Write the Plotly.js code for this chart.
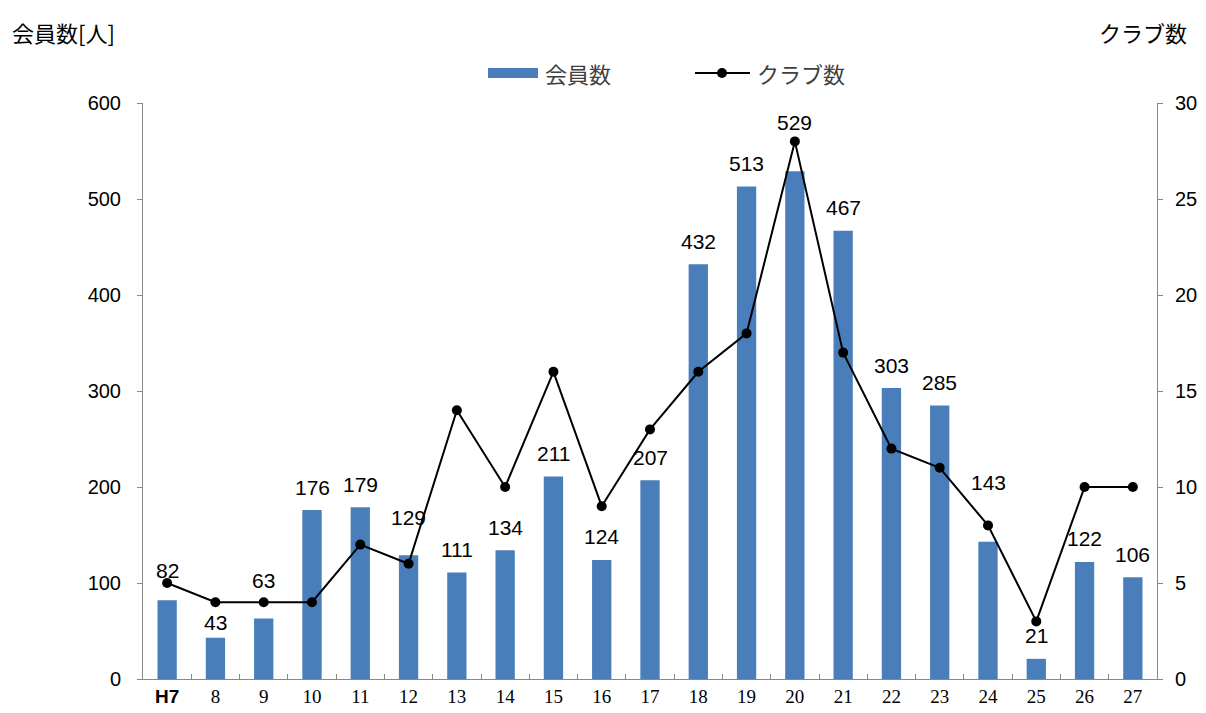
<!DOCTYPE html>
<html><head><meta charset="utf-8">
<script src="https://cdn.plot.ly/plotly-3.0.1.min.js"></script>
<style>body{margin:0;background:#fff}#c{width:1206px;height:713px}</style>
</head><body><div id="c"></div>
<script>
const categories = ["H7","8","9","10","11","12","13","14","15","16","17","18","19","20","21","22","23","24","25","26","27"];
const members = [82,43,63,176,179,129,111,134,211,124,207,432,513,529,467,303,285,143,21,122,106];
const clubs = [5,4,4,4,7,6,14,10,16,9,13,16,18,28,17,12,11,8,3,10,10];
const tickLabels = ['<span style="font-family:Liberation Sans;font-weight:bold">H7</span>',"8","9","10","11","12","13","14","15","16","17","18","19","20","21","22","23","24","25","26","27"];
const leftTitle = "会員数[人]";
const rightTitle = "クラブ数";
const barName = "会員数";
const lineName = "クラブ数";

// style: label lift above bar top (px), default 23, manual nudges as in the original
const labelLift = {"H7":30,"8":15,"9":38,"12":38,"20":49,"24":59};

const barColor = '#4a7ebb';
const traces = [
  {type:'bar', x:categories, y:members, name:barName, width:0.4, marker:{color:barColor}},
  {type:'scatter', mode:'lines+markers', x:categories, y:clubs, name:lineName, yaxis:'y2',
   line:{color:'#000', width:2}, marker:{color:'#000', size:10}, cliponaxis:false}
];
const px = v => (v-143)/1014;
const py = v => (679-v)/576;
const legFont = {family:'Noto Sans CJK JP', size:22, color:'#404040'};
const titleFont = {family:'Noto Sans CJK JP', size:22, color:'#000'};
const labelAnns = categories.map((c,i)=>({
  text:String(members[i]), x:i, y:members[i], xref:'x', yref:'y', showarrow:false,
  yanchor:'middle', yshift:(labelLift[c]!==undefined?labelLift[c]:23),
  font:{family:'Liberation Sans, Arial', size:21, color:'#000'}
}));
const layout = {
  width:1206, height:713,
  margin:{l:143, r:49, t:103, b:34},
  paper_bgcolor:'#fff', plot_bgcolor:'#fff',
  showlegend:false,
  xaxis:{type:'category', range:[-0.5,20.5], tickvals:categories, ticktext:tickLabels, showline:true, linecolor:'#888', linewidth:1,
    ticks:'inside', ticklen:5, tickcolor:'#888', tickson:'boundaries', showgrid:false, zeroline:false,
    tickfont:{family:'Liberation Serif, DejaVu Serif', size:19, color:'#000'}},
  yaxis:{range:[0,600], dtick:100, showline:true, linecolor:'#888', linewidth:1, ticks:'outside', ticklen:5,
    tickcolor:'#888', showgrid:false, zeroline:false, ticklabelstandoff:12,
    tickfont:{family:'Liberation Sans, Arial', size:20, color:'#000'}},
  yaxis2:{range:[0,30], dtick:5, overlaying:'y', side:'right', showline:true, linecolor:'#888', linewidth:1,
    ticks:'outside', ticklen:5, tickcolor:'#888', showgrid:false, zeroline:false, ticklabelstandoff:8,
    tickfont:{family:'Liberation Sans, Arial', size:20, color:'#000'}},
  shapes:[
    {type:'rect', xref:'paper', yref:'paper', x0:px(488), x1:px(538), y0:py(78), y1:py(68), fillcolor:barColor, line:{width:0}},
    {type:'line', xref:'paper', yref:'paper', x0:px(695), x1:px(750), y0:py(73), y1:py(73), line:{color:'#000', width:2}},
    {type:'circle', xref:'paper', yref:'paper', x0:px(717), x1:px(727), y0:py(78), y1:py(68), fillcolor:'#000', line:{width:0}}
  ],
  annotations:[
    {text:leftTitle, xref:'paper', yref:'paper', x:px(10), y:py(32), xanchor:'left', yanchor:'middle', showarrow:false, font:titleFont},
    {text:rightTitle, xref:'paper', yref:'paper', x:px(1189), y:py(32), xanchor:'right', yanchor:'middle', showarrow:false, font:titleFont},
    {text:barName, xref:'paper', yref:'paper', x:px(543), y:py(73), xanchor:'left', yanchor:'middle', showarrow:false, font:legFont},
    {text:lineName, xref:'paper', yref:'paper', x:px(755), y:py(73), xanchor:'left', yanchor:'middle', showarrow:false, font:legFont}
  ].concat(labelAnns)
};
Plotly.newPlot('c', traces, layout, {staticPlot:true});
</script></body></html>
